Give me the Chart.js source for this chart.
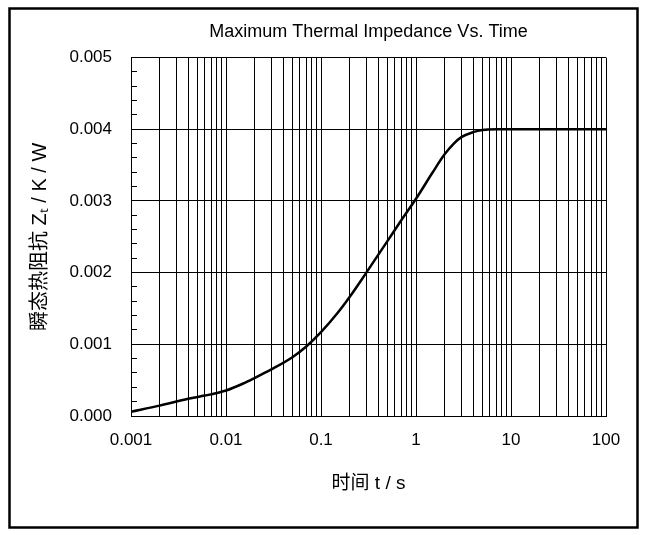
<!DOCTYPE html>
<html>
<head>
<meta charset="utf-8">
<script src="https://cdn.jsdelivr.net/npm/chart.js@4.4.1/dist/chart.umd.min.js"></script>
<style>
  body { margin: 0; background: #fff; }
</style>
</head>
<body>
<canvas id="grafico" width="645" height="535"></canvas>
<script>
// dados
const TEMPO = [0.001, 0.002, 0.004, 0.006, 0.008, 0.01, 0.015, 0.02, 0.03, 0.05, 0.07, 0.1, 0.15, 0.2, 0.3, 0.5, 0.7, 1, 1.5, 2, 2.5, 3, 4, 5, 7, 10, 20, 50, 100];
const ZTH = [0.00006, 0.000145, 0.00024, 0.000285, 0.00032, 0.000355, 0.00045, 0.00053, 0.00065, 0.00082, 0.00097, 0.00117, 0.00144, 0.00166, 0.002, 0.00244, 0.00273, 0.00303, 0.0034, 0.00365, 0.0038, 0.00389, 0.00396, 0.00399, 0.004, 0.004, 0.004, 0.004, 0.004];
const X_LABELS = ['0.001', '0.01', '0.1', '1', '10', '100'];
const Y_LABELS = ['0.000', '0.001', '0.002', '0.003', '0.004', '0.005'];

const FONTE = "'Liberation Sans', Arial, 'Noto Sans CJK SC', sans-serif";
const DIV_GRAF = document.getElementById('grafico');

const fundo_e_moldura = {
  id: 'moldura',
  afterLayout(chart) {
    // título centrado sobre a área do gráfico
    if (chart.titleBlock) {
      chart.titleBlock.left = chart.chartArea.left;
      chart.titleBlock.right = chart.chartArea.right;
    }
  },
  beforeDraw(chart) {
    const ctx = chart.ctx;
    ctx.save();
    ctx.fillStyle = '#fff';
    ctx.fillRect(0, 0, chart.width, chart.height);
    ctx.restore();
  },
  afterDraw(chart) {
    const ctx = chart.ctx;
    ctx.save();
    ctx.strokeStyle = '#000';
    ctx.lineWidth = 2.5;
    ctx.strokeRect(9.5, 8.5, 628, 519);
    ctx.restore();
  }
};

new Chart(DIV_GRAF, {
  type: 'line',
  data: {
    datasets: [{
      data: TEMPO.map((t, i) => ({ x: t, y: ZTH[i] })),
      borderColor: '#000',
      borderWidth: 2.5,
      pointRadius: 0,
      cubicInterpolationMode: 'monotone',
      fill: false
    }]
  },
  options: {
    responsive: false,
    animation: false,
    layout: { padding: { left: 0, right: 39, top: 0, bottom: 0 } },
    plugins: {
      legend: { display: false },
      tooltip: { enabled: false },
      title: {
        display: true,
        text: 'Maximum Thermal Impedance Vs. Time',
        color: '#000',
        font: { family: FONTE, size: 18, weight: 'normal' },
        padding: { top: 21, bottom: 15 }
      }
    },
    scales: {
      x: {
        type: 'logarithmic',
        min: 0.001,
        max: 100,
        afterBuildTicks(axis) {
          const ticks = [];
          for (let e = -3; e < 2; e++) {
            for (let s = 1; s < 10; s++) ticks.push({ value: Number((s * Math.pow(10, e)).toPrecision(6)) });
          }
          ticks.push({ value: 100 });
          axis.ticks = ticks;
        },
        afterFit(scale) { scale.height = 119; },
        grid: { color: '#000', lineWidth: 1, drawTicks: false },
        border: { color: '#000', width: 1 },
        ticks: {
          autoSkip: false,
          maxRotation: 0,
          padding: 14,
          color: '#000',
          font: { family: FONTE, size: 17 },
          callback(value) {
            const l = Math.log10(value);
            if (Math.abs(l - Math.round(l)) < 1e-6) return X_LABELS[Math.round(l) + 3];
            return '';
          }
        },
        title: {
          display: true,
          text: '时间 t / s',
          color: '#000',
          font: { family: FONTE, size: 19 },
          padding: { top: 0, bottom: 40 }
        }
      },
      y: {
        type: 'linear',
        min: 0,
        max: 0.005,
        afterBuildTicks(axis) {
          const ticks = [];
          for (let i = 0; i <= 25; i++) ticks.push({ value: Number((i * 0.0002).toFixed(4)) });
          axis.ticks = ticks;
        },
        afterFit(scale) { scale.width = 131; },
        grid: {
          color(ctx) {
            if (!ctx.tick) return '#000';
            return Math.round(ctx.tick.value * 10000) % 10 === 0 ? '#000' : 'rgba(0,0,0,0)';
          },
          tickColor: '#000',
          lineWidth: 1,
          drawTicks: true,
          tickLength: -6
        },
        border: { color: '#000', width: 1 },
        ticks: {
          autoSkip: false,
          padding: 25,
          color: '#000',
          font: { family: FONTE, size: 17 },
          callback(value) {
            const k = Math.round(value * 10000);
            if (k % 10 === 0) return Y_LABELS[k / 10];
            return '';
          }
        },
        title: {
          display: true,
          text: '瞬态热阻抗 Zₜ / K / W',
          color: '#000',
          font: { family: FONTE, size: 20 },
          padding: { top: 28, bottom: 0 }
        }
      }
    }
  },
  plugins: [fundo_e_moldura]
});
</script>
</body>
</html>
